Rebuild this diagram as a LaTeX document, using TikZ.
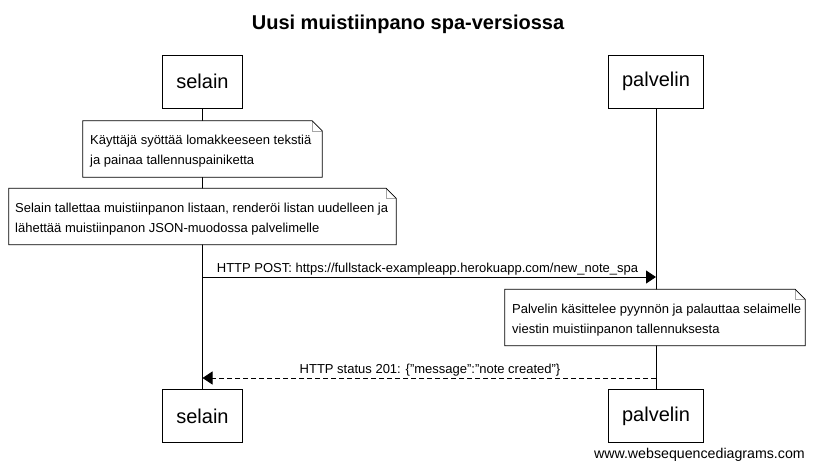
\documentclass[tikz,border=0pt]{standalone}
\usepackage{fontspec}
\setmainfont{Liberation Sans}
\usetikzlibrary{arrows.meta}
\begin{document}
\begin{tikzpicture}[x=1pt,y=-1pt,
  actor/.style={draw, line width=0.8pt, minimum width=80pt, minimum height=53pt, inner sep=0pt,
    font=\fontsize{20}{24}\selectfont},
  notebox/.style={inner sep=0pt, minimum height=56pt, align=left, text width=#1,
    font=\fontsize{13}{20}\selectfont},
  noteline/.style={draw, line width=0.8pt},
  fold/.style={draw=gray!70, line width=0.6pt},
  lifeline/.style={line width=0.8pt},
  msg/.style={line width=0.8pt, -{Triangle[length=10pt,width=13pt]}},
  msgdash/.style={msg, dash pattern=on 5pt off 3pt},
  lbl/.style={font=\fontsize{13}{15}\selectfont, inner sep=0pt, anchor=base},
]
\path[fill=white] (0,0) rectangle (815,469);
\useasboundingbox (0,0) rectangle (815,469);

% title
\node[font=\bfseries\fontsize{20}{24}\selectfont, anchor=base] (title) at (408,29) {Uusi muistiinpano spa-versiossa};

% actors
\node[actor] (s1) at (202.5,81.5) {selain};
\node[actor, minimum width=95pt] (p1) at (656,81.5) {palvelin};
\node[actor] (s2) at (202.5,416) {selain};
\node[actor, minimum width=95pt] (p2) at (656,416) {palvelin};

% lifelines
\draw[lifeline] (s1.south) -- (s2.north);
\draw[lifeline] (p1.south) -- (p2.north);

% notes
\newcommand{\notedraw}[1]{%
  \fill[white] (#1.north west) -- ([xshift=-10pt]#1.north east) -- ([yshift=-10pt]#1.north east) -- (#1.south east) -- (#1.south west) -- cycle;
  \draw[fold] ([xshift=-10pt]#1.north east) -- ([xshift=-10pt,yshift=-10pt]#1.north east) -- ([yshift=-10pt]#1.north east);
  \draw[noteline] (#1.north west) -- ([xshift=-10pt]#1.north east) -- ([yshift=-10pt]#1.north east) -- (#1.south east) -- (#1.south west) -- cycle;
}

\node[notebox=224pt, minimum width=239pt, text depth=0pt] (n1) at (202.5,149) {};
\notedraw{n1}
\node[lbl, anchor=base west] (n1a) at (90,144) {Käyttäjä syöttää lomakkeeseen tekstiä};
\node[lbl, anchor=base west] (n1b) at (90,164) {ja painaa tallennuspainiketta};

\node[notebox=373pt, minimum width=387pt] (n2) at (202.5,216.5) {};
\notedraw{n2}
\node[lbl, anchor=base west] (n2a) at (15,212) {Selain tallettaa muistiinpanon listaan, renderöi listan uudelleen ja};
\node[lbl, anchor=base west] (n2b) at (15,232) {lähettää muistiinpanon JSON-muodossa palvelimelle};

\node[notebox=286pt, minimum width=300pt] (n3) at (655,317.5) {};
\notedraw{n3}
\node[lbl, anchor=base west] (n3a) at (512,313) {Palvelin käsittelee pyynnön ja palauttaa selaimelle};
\node[lbl, anchor=base west] (n3b) at (512,333) {viestin muistiinpanon tallennuksesta};

% messages
\coordinate (m1s) at (s1.south |- 0,277);
\coordinate (m1e) at (p1.south |- 0,277);
\draw[msg] (m1s) -- (m1e);
\node[lbl] (m1l) at (427.5,272) {HTTP POST: https://fullstack-exampleapp.herokuapp.com/new\_note\_spa};

\coordinate (m2s) at (p1.south |- 0,378);
\coordinate (m2e) at (s1.south |- 0,378);
\draw[msgdash] (m2s) -- (m2e);
\node[lbl] (m2l) at (430,373) {HTTP status 201: \{\symbol{"22}message\symbol{"22}:\symbol{"22}note created\symbol{"22}\}};

% footer
\node[lbl, font=\fontsize{14.2}{16}\selectfont, anchor=base east] (foot) at (805,458) {www.websequencediagrams.com};
\end{tikzpicture}
\end{document}
